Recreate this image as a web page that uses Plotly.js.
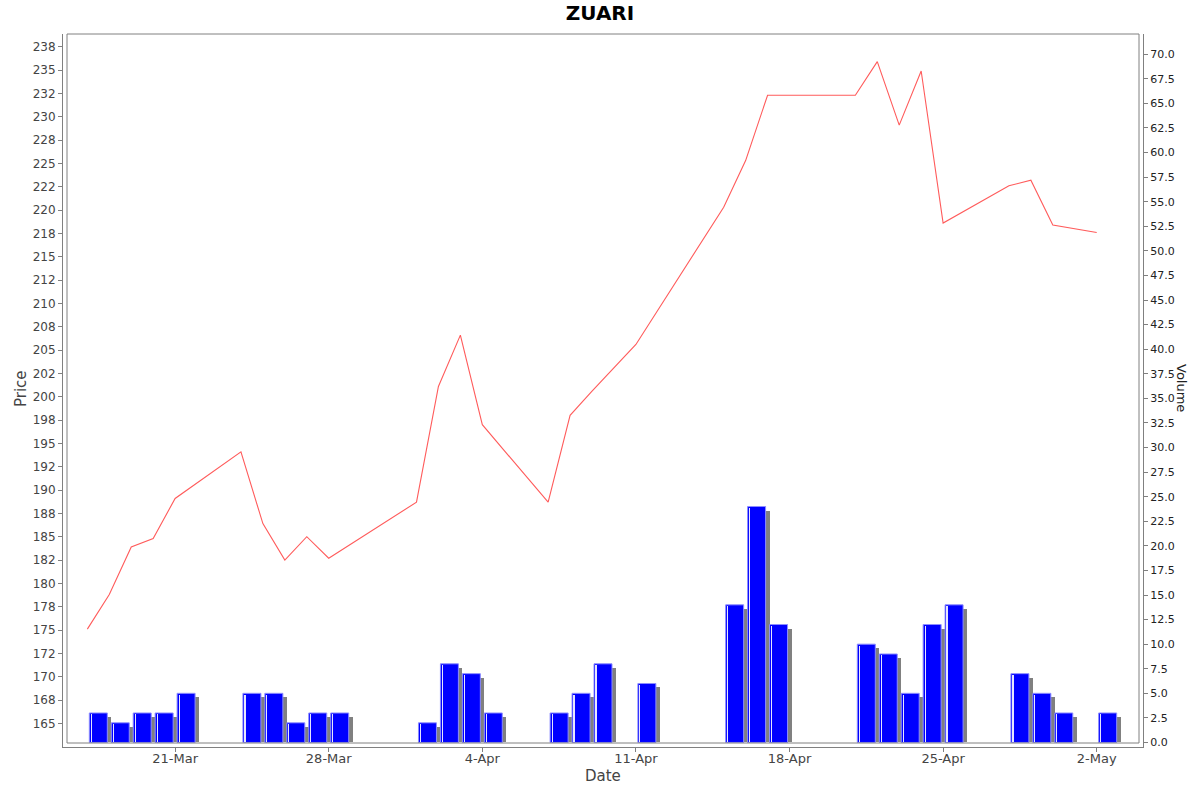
<!DOCTYPE html>
<html>
<head>
<meta charset="utf-8">
<script src="https://cdn.plot.ly/plotly-3.0.1.min.js"></script>
<style>
  html, body { margin: 0; padding: 0; background: #fff; }
  #grafico { width: 1200px; height: 792px; }
</style>
</head>
<body>
<div id="grafico"></div>
<script>
const dates = ['2025-03-17', '2025-03-18', '2025-03-19', '2025-03-20', '2025-03-21',
	'2025-03-24', '2025-03-25', '2025-03-26', '2025-03-27', '2025-03-28',
	'2025-04-01', '2025-04-02', '2025-04-03', '2025-04-04', '2025-04-07',
	'2025-04-08', '2025-04-09', '2025-04-11', '2025-04-15', '2025-04-16',
	'2025-04-17', '2025-04-21', '2025-04-22', '2025-04-23', '2025-04-24',
	'2025-04-25', '2025-04-28', '2025-04-29', '2025-04-30', '2025-05-02'];

const prices = [175.1, 178.8, 183.9, 184.8, 189.1,
	194.1, 186.4, 182.5, 185.0, 182.7,
	188.7, 201.1, 206.6, 197.0, 188.7,
	198.0, 200.6, 205.6, 220.3, 225.3,
	232.3, 232.3, 235.9, 229.1, 234.9,
	218.6, 222.6, 223.2, 218.4, 217.6];

const volumes = [3, 2, 3, 3, 5,
	5, 5, 2, 3, 3,
	2, 8, 7, 3, 3,
	5, 8, 6, 14, 24,
	12, 10, 9, 5, 12,
	14, 7, 5, 3, 3];

const dateTicks = ['2025-03-21', '2025-03-28', '2025-04-04', '2025-04-11', '2025-04-18', '2025-04-25', '2025-05-02'];
const dateTickText = ['21-Mar', '28-Mar', '4-Apr', '11-Apr', '18-Apr', '25-Apr', '2-May'];

const priceTickText = ['165', '168', '170', '172', '175', '178', '180', '182', '185', '188',
	'190', '192', '195', '198', '200', '202', '205', '208', '210', '212',
	'215', '218', '220', '222', '225', '228', '230', '232', '235', '238'];

const DAY = 86400000;
const pxPerDay = 21.94;
const pxPerVol = 9.832;
const barWidth = 0.82 * DAY;

function shiftDate(d, ms) {
	return new Date(new Date(d + 'T00:00:00Z').getTime() + ms).toISOString();
}

const barX = dates.map(d => shiftDate(d, DAY / 2));
const shadowX = dates.map(d => shiftDate(d, DAY / 2 + 4 / pxPerDay * DAY));
const shadowY = volumes.map(v => v - 4 / pxPerVol);
// thin light stripe near the left edge of every bar
const stripeX = dates.map(d => shiftDate(d, DAY / 2 - barWidth / 2 + 2 / pxPerDay * DAY));
const stripeY = volumes.map(v => v - 1.5 / pxPerVol);
const priceTickVals = priceTickText.map((t, i) => 165 + i * 2.5);

plot();
function plot() {
	const shadow = {
		x: shadowX,
		y: shadowY,
		type: 'bar',
		yaxis: 'y2',
		width: barWidth,
		marker: { color: '#808080', line: { width: 0 } },
		hoverinfo: 'skip'
	};

	const bars = {
		x: barX,
		y: volumes,
		type: 'bar',
		yaxis: 'y2',
		width: barWidth,
		marker: { color: '#0000ff', line: { color: '#8c8cff', width: 1 } },
		name: 'Volume'
	};

	const stripe = {
		x: stripeX,
		y: stripeY,
		type: 'bar',
		yaxis: 'y2',
		width: 1.2 / pxPerDay * DAY,
		marker: { color: '#e6e6ff', line: { width: 0 } },
		hoverinfo: 'skip'
	};

	const line = {
		x: dates,
		y: prices,
		type: 'scatter',
		mode: 'lines',
		line: { color: '#ff5b5b', width: 1.1 },
		name: 'Price'
	};

	const tickFont = { family: 'DejaVu Sans', size: 12, color: '#444444' };

	const layout = {
		width: 1200,
		height: 792,
		margin: { l: 63, r: 57, t: 34, b: 45 },
		paper_bgcolor: '#ffffff',
		plot_bgcolor: '#ffffff',
		showlegend: false,
		barmode: 'overlay',
		bargap: 0,
		title: {
			text: '<b>ZUARI</b>',
			font: { family: 'DejaVu Sans', size: 20, color: '#000000' },
			x: 0.5, xanchor: 'center',
			y: 1 - 13 / 792, yref: 'container', yanchor: 'middle'
		},
		xaxis: {
			type: 'date',
			range: ['2025-03-15 21:22', '2025-05-04 02:38'],
			tickmode: 'array',
			tickvals: dateTicks,
			ticktext: dateTickText,
			tickfont: { family: 'DejaVu Sans', size: 13, color: '#444444' },
			ticks: 'outside', ticklen: 4, tickcolor: '#808080',
			ticklabelstandoff: -5,
			showline: true, linecolor: '#808080', linewidth: 1,
			showgrid: false, zeroline: false
		},
		yaxis: {
			range: [162.47, 238.86],
			tickmode: 'array',
			tickvals: priceTickVals,
			ticktext: priceTickText,
			tickfont: tickFont,
			ticks: 'outside', ticklen: 4, tickcolor: '#808080',
			showline: true, linecolor: '#808080', linewidth: 1,
			showgrid: false, zeroline: false
		},
		yaxis2: {
			overlaying: 'y',
			side: 'right',
			range: [-0.46, 72.06],
			tick0: 0, dtick: 2.5,
			tickformat: '.1f',
			tickfont: { family: 'DejaVu Sans', size: 11, color: '#222222' },
			ticks: 'outside', ticklen: 4, tickcolor: '#808080',
			showline: true, linecolor: '#808080', linewidth: 1,
			showgrid: false, zeroline: false
		},
		shapes: [{
			type: 'rect', xref: 'paper', yref: 'paper',
			x0: 4 / 1080, x1: 1 - 4 / 1080, y0: 4 / 713, y1: 1,
			line: { color: '#808080', width: 1 },
			layer: 'above'
		}],
		annotations: [
			{ text: 'Price', xref: 'paper', yref: 'paper', x: -42 / 1080, y: (747 - 389) / 713,
				textangle: -90, showarrow: false, xanchor: 'center', yanchor: 'middle',
				font: { family: 'DejaVu Sans', size: 15, color: '#444444' } },
			{ text: 'Date', xref: 'paper', yref: 'paper', x: (603 - 63) / 1080, y: (747 - 776) / 713,
				showarrow: false, xanchor: 'center', yanchor: 'middle',
				font: { family: 'DejaVu Sans', size: 15, color: '#444444' } },
			{ text: 'Volume', xref: 'paper', yref: 'paper', x: (1182 - 63) / 1080, y: (747 - 388) / 713,
				textangle: 90, showarrow: false, xanchor: 'center', yanchor: 'middle',
				font: { family: 'DejaVu Sans', size: 13, color: '#222222' } }
		]
	};

	Plotly.newPlot('grafico', [shadow, bars, stripe, line], layout, { displayModeBar: false, staticPlot: true });
}
</script>
</body>
</html>
